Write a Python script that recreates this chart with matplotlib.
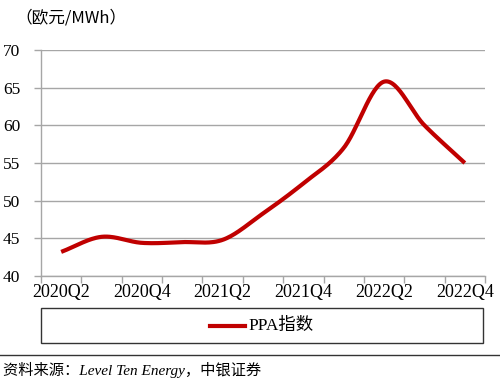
import numpy as np
import matplotlib
matplotlib.use("Agg")
import matplotlib.pyplot as plt
from matplotlib.patches import Rectangle
from matplotlib.lines import Line2D

categories = ["2020Q2", "2020Q3", "2020Q4", "2021Q1", "2021Q2", "2021Q3",
              "2021Q4", "2022Q1", "2022Q2", "2022Q3", "2022Q4"]
ppa_values = [43.2, 45.2, 44.4, 44.5, 44.8, 48.3, 52.3, 57.0, 65.8, 60.0, 55.0]
y_ticks = [40, 45, 50, 55, 60, 65, 70]
series_name = "PPA指数"
unit_label = "（欧元/MWh）"
source_text = "资料来源：Level Ten Energy，中银证券"

RED = "#c00000"
GRID = "#a6a6a6"
SERIF = ["Liberation Serif", "Noto Sans CJK SC"]
plt.rcParams['font.family'] = SERIF


def smooth(xs, ys, n=30):
    # Catmull-Rom style smoothing through the data points (like Excel smoothed lines)
    xs = np.asarray(xs, float); ys = np.asarray(ys, float)
    px = np.concatenate([[2*xs[0]-xs[1]], xs, [2*xs[-1]-xs[-2]]])
    py = np.concatenate([[2*ys[0]-ys[1]], ys, [2*ys[-1]-ys[-2]]])
    ox, oy = [], []
    for i in range(1, len(px)-2):
        t = np.linspace(0, 1, n, endpoint=False)
        for arr, out in ((px, ox), (py, oy)):
            p0, p1, p2, p3 = arr[i-1], arr[i], arr[i+1], arr[i+2]
            out.extend(0.5*((2*p1) + (-p0+p2)*t + (2*p0-5*p1+4*p2-p3)*t**2 + (-p0+3*p1-3*p2+p3)*t**3))
    ox.append(xs[-1]); oy.append(ys[-1])
    return np.array(ox), np.array(oy)


fig = plt.figure(figsize=(5, 3.85), dpi=100)
ax = fig.add_axes([41/500, 1-276/385, (485-41)/500, (276-50)/385])

x = np.arange(len(categories))
sx, sy = smooth(x, ppa_values)
ax.plot(sx, sy, color=RED, lw=3.0, solid_capstyle='butt', zorder=3)

ax.set_xlim(-0.5, len(categories)-0.5)
ax.set_ylim(40, 70)
ax.set_yticks(y_ticks)
ax.set_yticklabels([str(v) for v in y_ticks], fontsize=12.5)
ax.yaxis.grid(True, color=GRID, lw=1.0)
ax.set_axisbelow(True)

ax.set_xticks(np.arange(-0.5, len(categories), 1.0))
ax.set_xticklabels([])
ax.set_xticks(x[::2], minor=True)
ax.set_xticklabels(categories[::2], minor=True, fontsize=13)
ax.tick_params(axis='x', which='minor', length=0, pad=6)
ax.tick_params(axis='x', which='major', length=5, color=GRID, width=1)
ax.tick_params(axis='y', length=5, color=GRID, width=1, pad=10)

for s in ("top", "right"):
    ax.spines[s].set_visible(False)
for s in ("left", "bottom"):
    ax.spines[s].set_color(GRID)
    ax.spines[s].set_linewidth(1.0)

fig.text(15/500, 1-18/385, unit_label, fontsize=12, va='center', ha='left',
         family=["Noto Sans CJK SC"])

# legend box
fig.patches.append(Rectangle((41/500, 1-343/385), (483-41)/500, (343-308)/385,
                             transform=fig.transFigure, fill=False,
                             edgecolor="#333333", lw=1.0))
fig.lines.append(Line2D([210/500, 245/500], [1-326/385]*2, transform=fig.transFigure,
                        color=RED, lw=3.0))
fig.text(248/500, 1-326/385, series_name, fontsize=12.5, va='center', ha='left')

# separator line and source
fig.lines.append(Line2D([0, 1], [1-355/385]*2, transform=fig.transFigure,
                        color="#333333", lw=1.0))
fig.text(3/500, 1-370/385, source_text, fontsize=11, va='center', ha='left',
         style='italic', family=["Liberation Serif", "Noto Sans CJK SC"])

fig.savefig("out.png", dpi=100)
